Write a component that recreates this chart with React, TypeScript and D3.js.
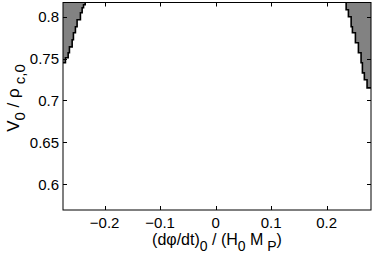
import React, { useEffect, useRef } from 'react';
import * as d3 from 'd3';

// axis limits and ticks
const xDomain = [-0.275, 0.28];
const yDomain = [0.569, 0.817];
const xTicks = [-0.2, -0.1, 0, 0.1, 0.2];
const yTicks = [0.6, 0.65, 0.7, 0.75, 0.8];

// left excluded region: V levels (top -> down) and boundary phi
const leftV = [0.817, 0.8144, 0.8108, 0.8048, 0.7964, 0.788, 0.7808, 0.7725, 0.764, 0.7569, 0.751, 0.745];
const leftPhi = [-0.235, -0.238, -0.2405, -0.2436, -0.2496, -0.2526, -0.2562, -0.2585, -0.2634, -0.2657, -0.2706, -0.275];

// right excluded region
const rightV = [0.817, 0.8084, 0.8, 0.788, 0.7808, 0.7689, 0.7569, 0.745, 0.7329, 0.7246, 0.715];
const rightPhi = [0.2352, 0.2393, 0.2442, 0.2465, 0.2519, 0.2573, 0.2621, 0.2645, 0.268, 0.2729, 0.28];

export default function App() {
  const svgRef = useRef<SVGSVGElement>(null);

  useEffect(() => {
    const svg = d3.select(svgRef.current);
    svg.selectAll('*').remove();

    const W = 374, H = 259;
    const left = 63, right = 371, top = 2.5, bottom = 210;
    const font = 'Liberation Sans, Arial, Helvetica, sans-serif';

    svg.attr('width', W).attr('height', H);

    const x = d3.scaleLinear().domain(xDomain).range([left, right]);
    const y = d3.scaleLinear().domain(yDomain).range([bottom, top]);

    svg.append('defs').append('clipPath').attr('id', 'plot-clip')
      .append('rect')
      .attr('x', left).attr('y', top)
      .attr('width', right - left).attr('height', bottom - top);

    const plot = svg.append('g').attr('clip-path', 'url(#plot-clip)');

    const drawRegion = (vs: number[], phis: number[], edge: number) => {
      const pts = vs.map((v, i) => ({ v, p: phis[i] }));
      const area = d3.area<{ v: number; p: number }>()
        .y(d => y(d.v))
        .x0(() => x(edge))
        .x1(d => x(d.p))
        .curve(d3.curveStepBefore);
      const line = d3.line<{ v: number; p: number }>()
        .x(d => x(d.p))
        .y(d => y(d.v))
        .curve(d3.curveStepBefore);
      plot.append('path').datum(pts)
        .attr('d', area)
        .attr('fill', '#828282');
      plot.append('path').datum(pts)
        .attr('d', line)
        .attr('fill', 'none')
        .attr('stroke', '#000')
        .attr('stroke-width', 1.6);
    };

    drawRegion(leftV, leftPhi, xDomain[0]);
    drawRegion(rightV, rightPhi, xDomain[1]);

    // ---- box + inward ticks (matlab style)
    const tickLen = 4;
    const axes = svg.append('g').attr('stroke', '#000').attr('stroke-width', 1);
    axes.append('rect')
      .attr('x', left).attr('y', top)
      .attr('width', right - left).attr('height', bottom - top)
      .attr('fill', 'none');

    xTicks.forEach(t => {
      const xx = Math.round(x(t)) + 0.5;
      axes.append('line').attr('x1', xx).attr('x2', xx).attr('y1', bottom).attr('y2', bottom - tickLen);
      axes.append('line').attr('x1', xx).attr('x2', xx).attr('y1', top).attr('y2', top + tickLen);
    });
    yTicks.forEach(t => {
      const yy = Math.round(y(t)) + 0.5;
      axes.append('line').attr('x1', left).attr('x2', left + tickLen).attr('y1', yy).attr('y2', yy);
      axes.append('line').attr('x1', right).attr('x2', right - tickLen).attr('y1', yy).attr('y2', yy);
    });

    // tick labels
    const fmt = (v: number) => (v < 0 ? '\u2212' : '') + String(Math.abs(v));
    svg.append('g').selectAll('text').data(xTicks).enter().append('text')
      .attr('x', d => x(d))
      .attr('y', 228)
      .attr('text-anchor', 'middle')
      .style('font-family', font)
      .style('font-size', '15px')
      .text(d => fmt(d));

    svg.append('g').selectAll('text').data(yTicks).enter().append('text')
      .attr('x', 59)
      .attr('y', d => y(d) + 5.5)
      .attr('text-anchor', 'end')
      .style('font-family', font)
      .style('font-size', '15px')
      .text(d => String(d));

    // x label
    const xl = svg.append('text')
      .attr('x', 217)
      .attr('y', 245)
      .attr('text-anchor', 'middle')
      .style('font-family', font)
      .style('font-size', '16px');
    xl.append('tspan').text('(d\u03C6/dt)');
    xl.append('tspan').attr('dy', 6).style('font-size', '14px').text('0');
    xl.append('tspan').attr('dy', -6).text(' / (H');
    xl.append('tspan').attr('dy', 6).style('font-size', '14px').text('0');
    xl.append('tspan').attr('dy', -6).text(' M');
    xl.append('tspan').attr('dy', 6).style('font-size', '14px').text(' P');
    xl.append('tspan').attr('dy', -6).text(')');

    // y label
    const yl = svg.append('text')
      .attr('transform', 'translate(19,98) rotate(-90)')
      .attr('text-anchor', 'middle')
      .style('font-family', font)
      .style('font-size', '17px');
    yl.append('tspan').text('V');
    yl.append('tspan').attr('dy', 6).style('font-size', '15px').text('0');
    yl.append('tspan').attr('dy', -6).text(' / \u03C1');
    yl.append('tspan').attr('dy', 6).style('font-size', '15px').text(' c,0');
  }, []);

  return (
    <div style={{ position: 'fixed', left: 0, top: 0, background: '#fff' }}>
      <svg ref={svgRef} style={{ display: 'block' }} />
    </div>
  );
}
